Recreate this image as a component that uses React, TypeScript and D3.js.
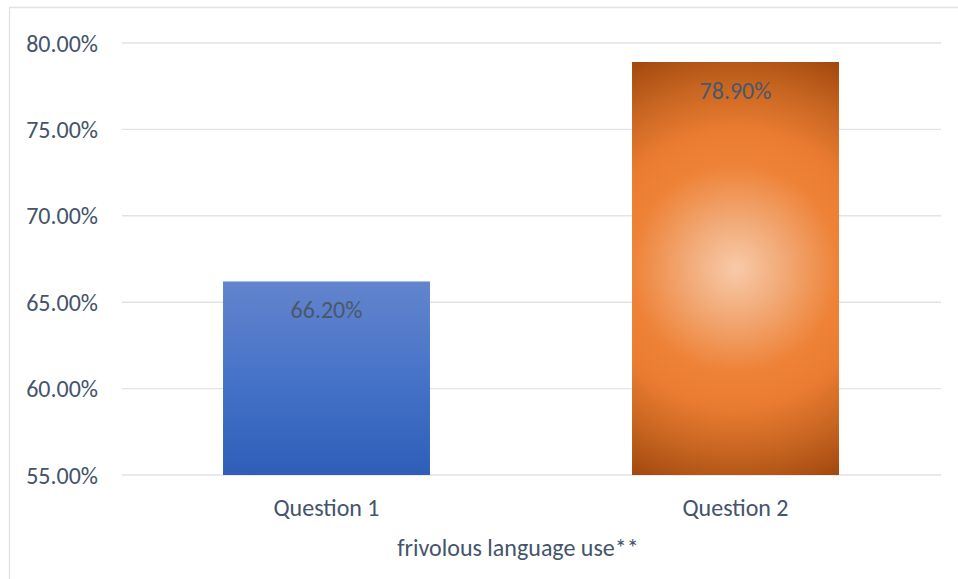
import React from "react";
import * as d3 from "d3";

const categories = ["Question 1", "Question 2"];
const values = [0.662, 0.789];
const yTicks = [0.55, 0.6, 0.65, 0.7, 0.75, 0.8];
const axisTitle = "frivolous language use**";

const W = 958;
const H = 579;
const FONT = "Calibri, Carlito, 'Open Sans', sans-serif";
const FS = 24;
const TEXT = "#44546A";

export default function App() {
  const x = d3
    .scaleBand<string>()
    .domain(categories)
    .range([122, 940])
    .paddingInner(0.494)
    .paddingOuter(0.247);
  const y = d3.scaleLinear().domain([0.55, 0.8]).range([475, 43]);
  const fmt = d3.format(".2%");

  const b2 = categories[1];
  const b2x = x(b2)! + x.bandwidth() / 2;
  const b2top = y(values[1]);
  const b2cy = (b2top + y(0.55)) / 2;
  const b2r = Math.sqrt((x.bandwidth() / 2) ** 2 + ((y(0.55) - b2top) / 2) ** 2);

  return (
    <svg
      width={W}
      height={H}
      style={{ position: "absolute", left: 0, top: 0, background: "#fff" }}
    >
      <defs>
        <linearGradient id="blueGrad" x1="0" y1="0" x2="0" y2="1">
          <stop offset="0" stopColor="#6384cd" />
          <stop offset="0.5" stopColor="#4673c8" />
          <stop offset="1" stopColor="#2e5eb8" />
        </linearGradient>
        <radialGradient
          id="orangeGrad"
          gradientUnits="userSpaceOnUse"
          cx={b2x}
          cy={b2cy}
          r={b2r}
        >
          <stop offset="0" stopColor="#f8caa9" />
          <stop offset="0.2" stopColor="#f2ab79" />
          <stop offset="0.45" stopColor="#ee8237" />
          <stop offset="0.6" stopColor="#ea7c31" />
          <stop offset="0.82" stopColor="#c3621f" />
          <stop offset="1" stopColor="#a1470e" />
        </radialGradient>
      </defs>
      {/* chart border */}
      <line x1={9.5} x2={9.5} y1={7} y2={H} stroke="#dfe3e8" strokeWidth={1.3} />
      <line x1={9} x2={W} y1={7.5} y2={7.5} stroke="#dfe3e8" strokeWidth={1.3} />

      {/* gridlines */}
      {yTicks.map((t) => (
        <line
          key={"g" + t}
          x1={122}
          x2={941}
          y1={y(t)}
          y2={y(t)}
          stroke="#e0e3e8"
          strokeWidth={1.4}
        />
      ))}

      {/* y labels */}
      {yTicks.map((t) => (
        <text
          key={"l" + t}
          x={98}
          y={y(t)}
          textAnchor="end"
          dominantBaseline="central"
          fontFamily={FONT}
          fontSize={FS}
          fill={TEXT}
        >
          {fmt(t)}
        </text>
      ))}

      {/* bars */}
      {categories.map((c, i) => (
        <rect
          key={c}
          x={x(c)}
          y={y(values[i])}
          width={x.bandwidth()}
          height={y(0.55) - y(values[i])}
          fill={i === 0 ? "url(#blueGrad)" : "url(#orangeGrad)"}
        />
      ))}

      {/* data labels */}
      {categories.map((c, i) => (
        <text
          key={"d" + c}
          x={x(c)! + x.bandwidth() / 2}
          y={y(values[i]) + 28}
          textAnchor="middle"
          dominantBaseline="central"
          fontFamily={FONT}
          fontSize={FS}
          fill="#4a586a"
        >
          {fmt(values[i])}
        </text>
      ))}

      {/* x labels */}
      {categories.map((c) => (
        <text
          key={"x" + c}
          x={x(c)! + x.bandwidth() / 2}
          y={507}
          textAnchor="middle"
          dominantBaseline="central"
          fontFamily={FONT}
          fontSize={FS}
          fill={TEXT}
        >
          {c}
        </text>
      ))}

      <text
        x={518}
        y={547}
        textAnchor="middle"
        dominantBaseline="central"
        fontFamily={FONT}
        fontSize={FS}
        fill={TEXT}
      >
        {axisTitle}
      </text>
    </svg>
  );
}
